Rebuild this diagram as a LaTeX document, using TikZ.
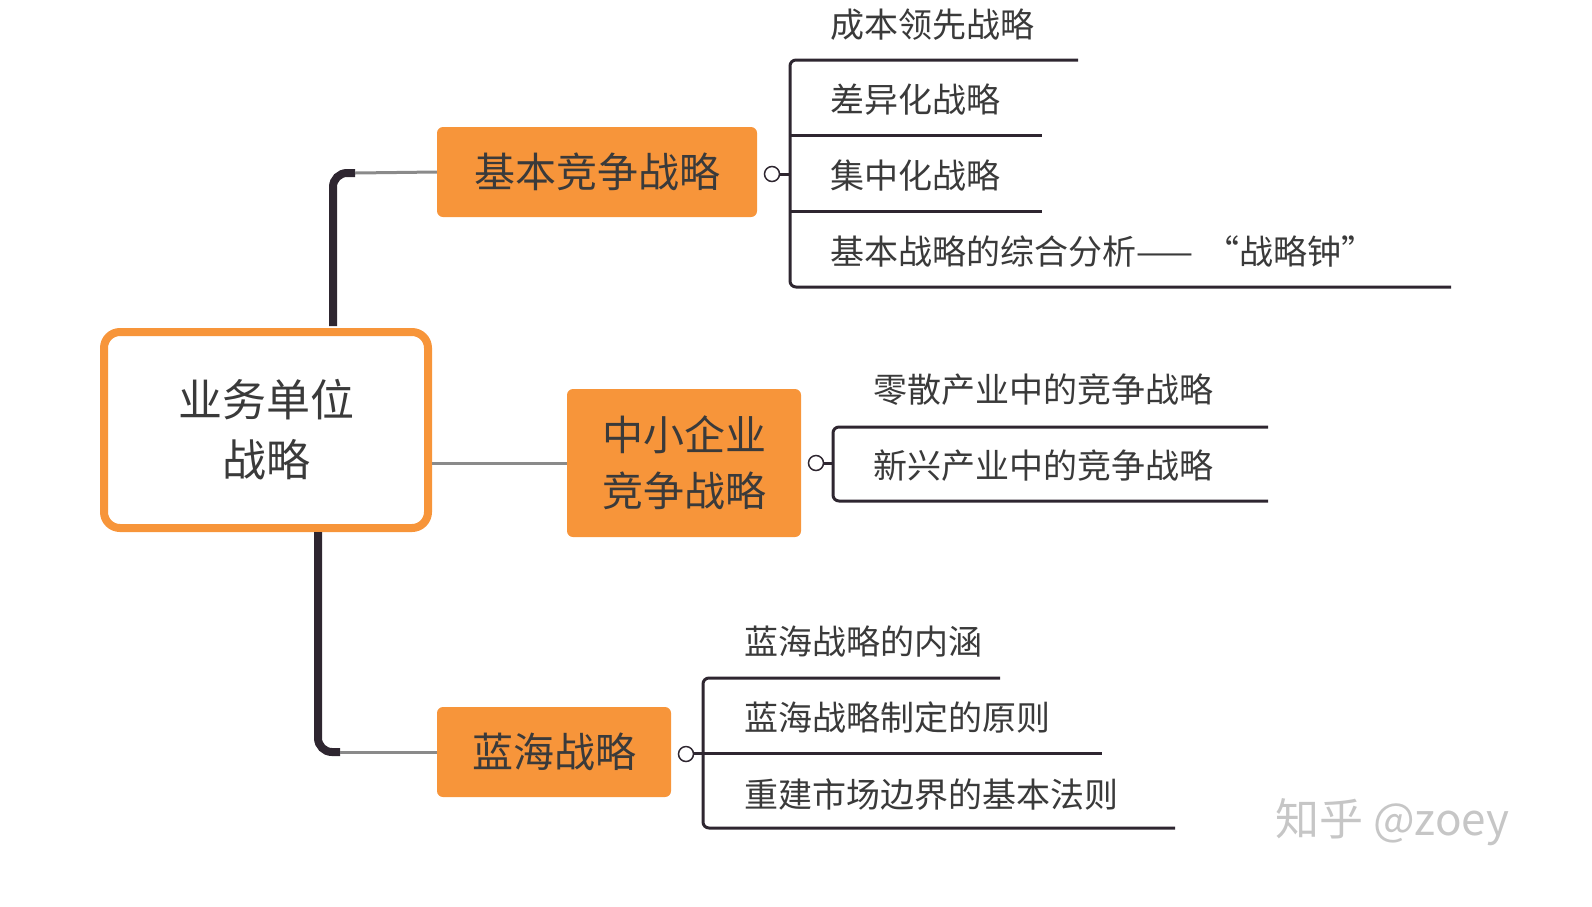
\documentclass[tikz,border=0pt]{standalone}
\usepackage{fontspec}
\setmainfont{Noto Sans CJK SC}
\definecolor{org}{HTML}{F7953A}
\definecolor{dk}{HTML}{2E2630}
\definecolor{tx}{HTML}{3A3A3A}
\definecolor{gl}{HTML}{8A8A8A}
\begin{document}
\begin{tikzpicture}[x=1pt,y=-1pt,
 obox/.style={fill=org,rounded corners=6pt,inner sep=0pt,text=tx,font=\fontsize{41}{56}\selectfont,align=center},
 leaf/.style={anchor=west,text=tx,font=\fontsize{34}{38}\selectfont,inner sep=0pt},
 lline/.style={draw=dk,line width=3pt,rounded corners=6pt},
 knob/.style={circle,draw=dk,fill=white,line width=1.5pt,minimum size=15pt,inner sep=0pt}]
\useasboundingbox (0,0) rectangle (1592,906);
\node[draw=org,line width=8pt,fill=white,rounded corners=16pt,minimum width=324pt,minimum height=196pt,text=tx,font=\fontsize{44}{60}\selectfont,align=center] (root) at (266,430) {业务单位\\战略};
\node[obox,minimum width=320pt,minimum height=90pt] (b1) at (597,172) {基本竞争战略};
\node[obox,minimum width=234pt,minimum height=148pt] (b2) at (684,463) {中小企业\\竞争战略};
\node[obox,minimum width=234pt,minimum height=90pt] (b3) at (554,752) {蓝海战略};
\draw[dk,line width=8pt,rounded corners=14pt] (333,326) -- (333,173) -- (355,173);
\draw[gl,line width=3pt] (355,173) -- (b1.west);
\draw[dk,line width=8pt,rounded corners=14pt] (318,532) -- (318,752) -- (340,752);
\draw[gl,line width=3pt] (340,752) -- (b3.west);
\draw[gl,line width=3pt] (root.east |- b2.west) -- (b2.west);
\draw[lline] (1078,60) -- (790,60) -- (790,287) -- (1451,287);
\draw[lline] (772,174) -- (790,174);
\draw[dk,line width=3pt] (790,135) -- (1042,135);
\draw[dk,line width=3pt] (790,211) -- (1042,211);
\node[knob] (k1) at (772,174) {};
\node[leaf] (l11) at (830,25) {成本领先战略};
\node[leaf] (l12) at (830,100) {差异化战略};
\node[leaf] (l13) at (830,176) {集中化战略};
\node[leaf] (l14) at (830,252) {基本战略的综合分析——\hspace{12pt}“战略钟”};
\draw[lline] (1268,427) -- (833,427) -- (833,501) -- (1268,501);
\draw[lline] (816,463) -- (833,463);
\node[knob] (k2) at (816,463) {};
\node[leaf] (l21) at (873,390) {零散产业中的竞争战略};
\node[leaf] (l22) at (873,466) {新兴产业中的竞争战略};
\draw[lline] (1000,678) -- (703,678) -- (703,828) -- (1175,828);
\draw[dk,line width=3pt] (686,753) -- (1102,753);
\node[knob] (k3) at (686,754) {};
\node[leaf] (l31) at (744,642) {蓝海战略的内涵};
\node[leaf] (l32) at (744,717) {蓝海战略制定的原则};
\node[leaf] (l33) at (744,795) {重建市场边界的基本法则};
\node[anchor=west,text=gray!45,font=\fontsize{44}{48}\selectfont,inner sep=0pt] (wm) at (1275,822) {知乎 @zoey};
\end{tikzpicture}
\end{document}
